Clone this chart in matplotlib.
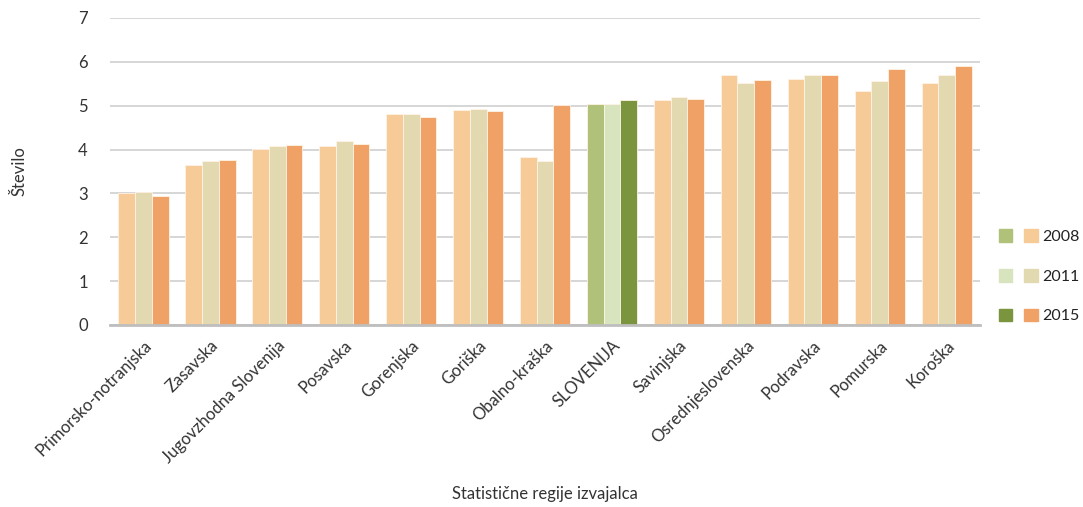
import matplotlib
matplotlib.use("Agg")
import matplotlib.pyplot as plt
import matplotlib.patches as mpatches
import numpy as np

plt.rcParams['font.family'] = ['Lato', 'DejaVu Sans']

regions = ["Primorsko-notranjska", "Zasavska", "Jugovzhodna Slovenija", "Posavska",
           "Gorenjska", "Goriška", "Obalno-kraška", "SLOVENIJA", "Savinjska",
           "Osrednjeslovenska", "Podravska", "Pomurska", "Koroška"]
years = ["2008", "2011", "2015"]
v2008 = [3.02, 3.65, 4.01, 4.08, 4.80, 4.90, 3.84, 5.04, 5.14, 5.69, 5.62, 5.34, 5.52]
v2011 = [3.03, 3.74, 4.08, 4.19, 4.81, 4.93, 3.73, 5.04, 5.19, 5.51, 5.71, 5.56, 5.69]
v2015 = [2.95, 3.76, 4.10, 4.13, 4.75, 4.87, 5.02, 5.13, 5.15, 5.58, 5.71, 5.84, 5.90]

orange = ["#F7CB97", "#E2D9B0", "#F0A166"]
green = ["#B0C27A", "#D8E4BE", "#7A953D"]
highlight = "SLOVENIJA"

fig = plt.figure(figsize=(10.83, 5.07), dpi=100)
ax = fig.add_axes([0.1016, 0.359, 0.8034, 0.6055])

x = np.arange(len(regions))
w = 0.25
series = [v2008, v2011, v2015]
for i, vals in enumerate(series):
    cols = [green[i] if r == highlight else orange[i] for r in regions]
    ax.bar(x + (i - 1) * w, vals, width=w, color=cols, edgecolor="#FFF3E6",
           linewidth=0.6, zorder=3)

ax.set_xlim(-0.5, len(regions) - 0.5)
ax.set_ylim(0, 7)
ax.set_yticks(range(0, 8))
ax.yaxis.grid(True, color="#D0D0D0", linewidth=1.2, zorder=0)
ax.tick_params(axis='y', length=0, pad=16, labelsize=12, labelcolor="#333333")
ax.tick_params(axis='x', length=0, pad=9, labelsize=12, labelcolor="#333333")
for s in ["left", "right", "top"]:
    ax.spines[s].set_visible(False)
ax.spines["bottom"].set_color("#BEBEBE")
ax.spines["bottom"].set_linewidth(2)
ax.spines["bottom"].set_zorder(4)
ax.set_xticks(x)
ax.set_xticklabels(regions, rotation=45, ha="right", rotation_mode="anchor")

ax.set_ylabel("Število", fontsize=12, color="#333333")
ax.set_xlabel("Statistične regije izvajalca", fontsize=12, color="#333333")
ax.xaxis.set_label_coords(0.5, -0.525)
ax.yaxis.set_label_coords(-0.095, 0.5)

handles = [mpatches.Patch(color=c) for c in green] + [mpatches.Patch(color=c) for c in orange]
labels = ["", "", ""] + years
fig.legend(handles, labels, ncol=2, loc="center left", bbox_to_anchor=(0.922, 0.455),
           frameon=False, handlelength=0.85, handleheight=0.85, columnspacing=0.45,
           handletextpad=0.3, labelspacing=1.55, fontsize=11.5, labelcolor="#222222",
           borderpad=0, borderaxespad=0)

fig.savefig("out.png", dpi=100, facecolor="white")
